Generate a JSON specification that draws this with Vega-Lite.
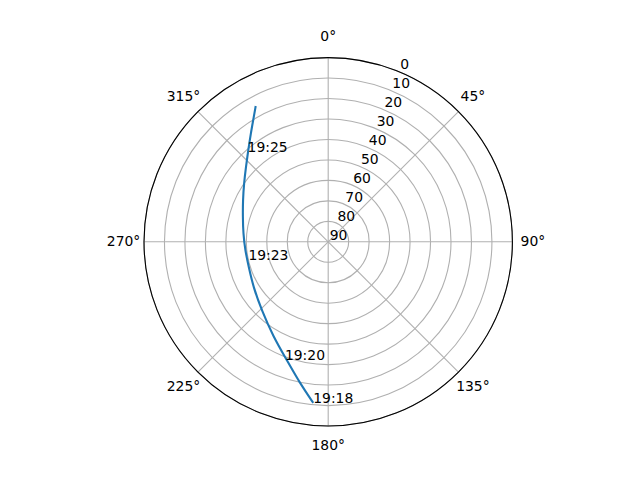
{
  "$schema": "https://vega.github.io/schema/vega-lite/v6.json",
  "width": 368.4,
  "height": 368.4,
  "autosize": "none",
  "padding": {"left": 144, "top": 57.6, "right": 127.6, "bottom": 54},
  "config": {
    "view": {"stroke": null},
    "text": {"font": "DejaVu Sans", "fontSize": 13.9, "fill": "#000000"}
  },
  "datasets": {
    "rings": [
      {"el": 80}, {"el": 70}, {"el": 60}, {"el": 50}, {"el": 40},
      {"el": 30}, {"el": 20}, {"el": 10}, {"el": 0}
    ],
    "spokes": [
      {"az": 0}, {"az": 45}, {"az": 90}, {"az": 135},
      {"az": 180}, {"az": 225}, {"az": 270}, {"az": 315}
    ],
    "anglelabels": [
      {"az": 0, "label": "0°"}, {"az": 45, "label": "45°"},
      {"az": 90, "label": "90°"}, {"az": 135, "label": "135°"},
      {"az": 180, "label": "180°"}, {"az": 225, "label": "225°"},
      {"az": 270, "label": "270°"}, {"az": 315, "label": "315°"}
    ],
    "radiallabels": [
      {"el": 0}, {"el": 10}, {"el": 20}, {"el": 30}, {"el": 40},
      {"el": 50}, {"el": 60}, {"el": 70}, {"el": 80}, {"el": 90}
    ],
    "track": [
      {"i": 1, "az": 185.3, "el": 11.0},
      {"i": 2, "az": 191.3, "el": 19.5},
      {"i": 3, "az": 199.3, "el": 28.8},
      {"i": 4, "az": 210.0, "el": 36.4},
      {"i": 5, "az": 224.3, "el": 43.4},
      {"i": 6, "az": 239.0, "el": 47.3},
      {"i": 7, "az": 251.5, "el": 49.2},
      {"i": 8, "az": 264.4, "el": 49.2},
      {"i": 9, "az": 275.7, "el": 48.3},
      {"i": 10, "az": 286.4, "el": 46.5},
      {"i": 11, "az": 296.1, "el": 43.6},
      {"i": 12, "az": 304.8, "el": 39.9},
      {"i": 13, "az": 312.4, "el": 35.6},
      {"i": 14, "az": 319.0, "el": 30.5},
      {"i": 15, "az": 324.5, "el": 24.9},
      {"i": 16, "az": 328.4, "el": 20.1},
      {"i": 17, "az": 331.9, "el": 14.8}
    ],
    "times": [
      {"az": 185.3, "el": 11.0, "label": "19:18"},
      {"az": 200.1, "el": 28.5, "label": "19:20"},
      {"az": 257.1, "el": 50.0, "label": "19:23"},
      {"az": 318.1, "el": 31.0, "label": "19:25"}
    ]
  },
  "layer": [
    {
      "data": {"name": "rings"},
      "transform": [{"calculate": "90 - datum.el", "as": "r"}],
      "mark": {"type": "point", "shape": "circle", "filled": false, "color": "#b0b0b0", "strokeWidth": 1.1, "opacity": 1},
      "encoding": {
        "x": {"datum": 0, "type": "quantitative", "scale": {"domain": [-90, 90], "nice": false, "zero": false}, "axis": null},
        "y": {"datum": 0, "type": "quantitative", "scale": {"domain": [-90, 90], "nice": false, "zero": false}, "axis": null},
        "size": {"field": "r", "type": "quantitative", "scale": {"type": "pow", "exponent": 2, "domain": [0, 90], "range": [0, 135718]}, "legend": null}
      }
    },
    {
      "data": {"name": "spokes"},
      "transform": [
        {"calculate": "0", "as": "o"},
        {"calculate": "90 * sin(datum.az * PI / 180)", "as": "ex"},
        {"calculate": "90 * cos(datum.az * PI / 180)", "as": "ey"}
      ],
      "mark": {"type": "rule", "color": "#b0b0b0", "strokeWidth": 1.1},
      "encoding": {
        "x": {"field": "o", "type": "quantitative", "scale": {"domain": [-90, 90], "nice": false, "zero": false}, "axis": null},
        "y": {"field": "o", "type": "quantitative", "scale": {"domain": [-90, 90], "nice": false, "zero": false}, "axis": null},
        "x2": {"field": "ex"},
        "y2": {"field": "ey"}
      }
    },
    {
      "data": {"values": [{"r": 90}]},
      "mark": {"type": "point", "shape": "circle", "filled": false, "color": "#000000", "strokeWidth": 1.1, "opacity": 1},
      "encoding": {
        "x": {"datum": 0, "type": "quantitative", "scale": {"domain": [-90, 90], "nice": false, "zero": false}, "axis": null},
        "y": {"datum": 0, "type": "quantitative", "scale": {"domain": [-90, 90], "nice": false, "zero": false}, "axis": null},
        "size": {"field": "r", "type": "quantitative", "scale": {"type": "pow", "exponent": 2, "domain": [0, 90], "range": [0, 135718]}, "legend": null}
      }
    },
    {
      "data": {"name": "track"},
      "transform": [
        {"calculate": "(90 - datum.el) * sin(datum.az * PI / 180)", "as": "x"},
        {"calculate": "(90 - datum.el) * cos(datum.az * PI / 180)", "as": "y"}
      ],
      "mark": {"type": "line", "color": "#1f77b4", "strokeWidth": 2.1, "interpolate": "basis"},
      "encoding": {
        "x": {"field": "x", "type": "quantitative", "scale": {"domain": [-90, 90], "nice": false, "zero": false}, "axis": null},
        "y": {"field": "y", "type": "quantitative", "scale": {"domain": [-90, 90], "nice": false, "zero": false}, "axis": null},
        "order": {"field": "i", "type": "quantitative"}
      }
    },
    {
      "data": {"name": "radiallabels"},
      "transform": [
        {"calculate": "(90 - datum.el) * sin(22.5 * PI / 180)", "as": "x"},
        {"calculate": "(90 - datum.el) * cos(22.5 * PI / 180)", "as": "y"}
      ],
      "mark": {"type": "text", "align": "left", "baseline": "alphabetic", "dx": 1.5, "dy": -2.3},
      "encoding": {
        "x": {"field": "x", "type": "quantitative", "scale": {"domain": [-90, 90], "nice": false, "zero": false}, "axis": null},
        "y": {"field": "y", "type": "quantitative", "scale": {"domain": [-90, 90], "nice": false, "zero": false}, "axis": null},
        "text": {"field": "el", "type": "nominal"}
      }
    },
    {
      "data": {"name": "anglelabels"},
      "transform": [
        {"calculate": "100 * sin(datum.az * PI / 180)", "as": "x"},
        {"calculate": "100 * cos(datum.az * PI / 180)", "as": "y"}
      ],
      "mark": {"type": "text", "align": "center", "baseline": "middle"},
      "encoding": {
        "x": {"field": "x", "type": "quantitative", "scale": {"domain": [-90, 90], "nice": false, "zero": false}, "axis": null},
        "y": {"field": "y", "type": "quantitative", "scale": {"domain": [-90, 90], "nice": false, "zero": false}, "axis": null},
        "text": {"field": "label", "type": "nominal"}
      }
    },
    {
      "data": {"name": "times"},
      "transform": [
        {"calculate": "(90 - datum.el) * sin(datum.az * PI / 180)", "as": "x"},
        {"calculate": "(90 - datum.el) * cos(datum.az * PI / 180)", "as": "y"}
      ],
      "mark": {"type": "text", "align": "left", "baseline": "alphabetic"},
      "encoding": {
        "x": {"field": "x", "type": "quantitative", "scale": {"domain": [-90, 90], "nice": false, "zero": false}, "axis": null},
        "y": {"field": "y", "type": "quantitative", "scale": {"domain": [-90, 90], "nice": false, "zero": false}, "axis": null},
        "text": {"field": "label", "type": "nominal"}
      }
    }
  ]
}
